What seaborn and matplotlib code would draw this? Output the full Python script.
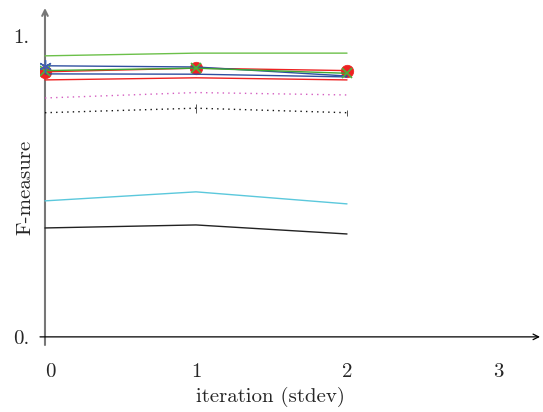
import matplotlib
matplotlib.use("Agg")
import matplotlib.pyplot as plt
import matplotlib.transforms as mtransforms
import seaborn as sns
import pandas as pd

# iterations on the x axis
iterations = [0, 1, 2]

# F-measure per run
green_top = [0.934, 0.943, 0.943]
blue_star = [0.901, 0.897, 0.867]
blue_plain = [0.874, 0.873, 0.864]
green_cross = [0.885, 0.893, 0.876]
red_circle = [0.881, 0.893, 0.885]
red_plain = [0.854, 0.861, 0.854]
magenta_dotted = [0.794, 0.812, 0.804]
black_dotted = [0.745, 0.760, 0.745]
black_dotted_err = [0.0, 0.015, 0.01]
cyan_line = [0.452, 0.482, 0.442]
black_line = [0.362, 0.372, 0.342]

x_ticks = [0, 1, 2, 3]
x_ticklabels = ["0", "1", "2", "3"]
y_ticks = [0, 1]
y_ticklabels = ["0.", "1."]

sns.set_style("white")
plt.rcParams["font.family"] = "serif"
plt.rcParams["font.serif"] = ["cmr10", "DejaVu Serif"]
plt.rcParams["axes.formatter.use_mathtext"] = True

fig = plt.figure(figsize=(5.43, 4.12), dpi=100)
W, H = 543, 412
ax = fig.add_axes([40 / W, 1 - 345 / H, 500 / W, 337 / H])
xlim = (-0.033, 3.278)
ylim = (-0.027, 1.093)
fs = 15

series = [
    (black_line, dict(color="#222222", lw=1.0)),
    (cyan_line, dict(color="#5bc8dc", lw=1.0)),
    (black_dotted, dict(color="#111111", lw=1.0, ls=(0, (1, 3)))),
    (magenta_dotted, dict(color="#d45cc0", lw=1.0, ls=(0, (1, 3)))),
    (red_plain, dict(color="#ee2222", lw=1.0)),
    (red_circle, dict(color="#ee2222", lw=1.0, marker="o", markersize=9,
                      markeredgecolor="#ee2222", markeredgewidth=0.5)),
    (blue_plain, dict(color="#2f4fa0", lw=1.0)),
    (blue_star, dict(color="#2f4fa0", lw=1.0)),
    (green_cross, dict(color="#3ea832", lw=1.0, marker="x", markersize=7,
                       markeredgecolor="#4cb23c", markeredgewidth=1.2)),
    (green_top, dict(color="#6cc04a", lw=1.0)),
]
for values, style in series:
    df = pd.DataFrame({"iteration": iterations, "F": values})
    sns.lineplot(data=df, x="iteration", y="F", ax=ax, **style)

# star marker on first point of the upper blue run
ax.plot(iterations[:1], blue_star[:1], ls="none", marker=(6, 2, 0), markersize=9,
        markeredgecolor="#4060b0", markeredgewidth=1.0, zorder=5)

# small stdev marks on the dotted black run
ax.errorbar(iterations, black_dotted, yerr=black_dotted_err, fmt="none",
            ecolor="#555555", elinewidth=0.7, ls=":", capsize=0)

ax.set_xlim(*xlim)
ax.set_ylim(*ylim)
for s in ax.spines.values():
    s.set_visible(False)

# axis lines with arrows
ax.annotate("", xy=(xlim[1], 0), xytext=(xlim[0], 0),
            arrowprops=dict(arrowstyle="->", color="black", lw=0.9, shrinkA=0, shrinkB=0))
ax.annotate("", xy=(0, ylim[1]), xytext=(0, ylim[0]),
            arrowprops=dict(arrowstyle="->", color="#777777", lw=1.5, shrinkA=0, shrinkB=0),
            zorder=1)

ax.set_xticks(x_ticks)
ax.set_xticklabels(x_ticklabels)
ax.set_yticks(y_ticks)
ax.set_yticklabels(y_ticklabels)
ax.tick_params(axis="x", length=0, pad=13, labelsize=fs)
ax.tick_params(axis="y", length=0, pad=8, labelsize=fs)
# the "0" label sits just right of the vertical axis
first = ax.get_xticklabels()[0]
first.set_transform(first.get_transform() + mtransforms.ScaledTranslation(5 / 100, 0, fig.dpi_scale_trans))
ax.set_xlabel("iteration (stdev)", fontsize=fs)
ax.set_ylabel("F-measure", fontsize=fs)
ax.xaxis.set_label_coords((270 - 40) / 500, -(397 - 345) / 337, transform=ax.transAxes)
ax.yaxis.set_label_coords((25 - 40) / 500, (345 - 187) / 337, transform=ax.transAxes)
ax.xaxis.label.set_va("center")
ax.yaxis.label.set_ha("center")
ax.yaxis.label.set_va("center")
ax.grid(False)

fig.savefig("out.png", dpi=100)
